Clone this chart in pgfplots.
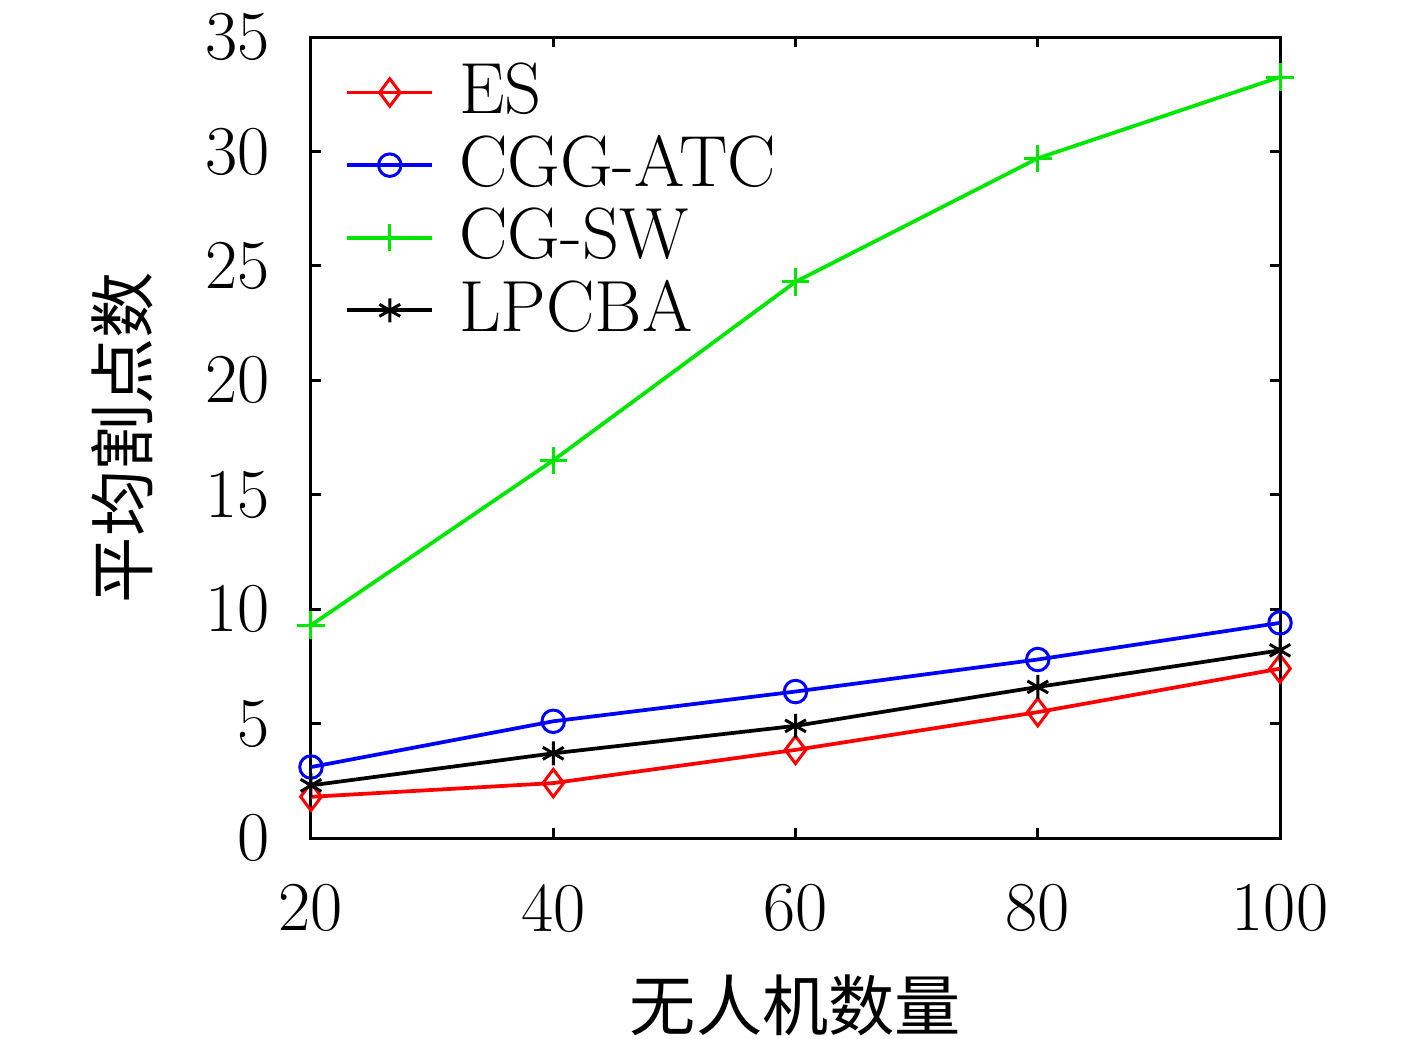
\documentclass[border=0pt]{standalone}
\usepackage{fontspec}
\usepackage{pgfplots}
\pgfplotsset{compat=1.18}
\newfontfamily\cjk{Noto Sans CJK SC}
\begin{document}
\fontsize{25}{30}\selectfont
\begin{tikzpicture}
\useasboundingbox (-124.4pt,-80pt) rectangle (442.4pt,335.2pt);
\begin{axis}[
  scale only axis,
  width=387.6pt, height=320.4pt,
  xmin=20, xmax=100, ymin=0, ymax=35,
  xtick={20,40,60,80,100},
  ytick={0,5,10,15,20,25,30,35},
  /pgf/number format/assume math mode=true,
  tick align=inside,
  major tick length=4pt,
  axis line style={line width=1.2pt},
  every tick/.style={black, line width=1.2pt},
  tick label style={font=\fontsize{28}{32}\selectfont},
  xticklabel style={yshift=-10pt},
  yticklabel style={xshift=-8pt},
  xlabel={\cjk 无人机数量},
  ylabel={\cjk 平均割点数},
  label style={font=\fontsize{26.5}{30}\selectfont},
  xlabel style={yshift=0pt},
  ylabel style={yshift=4pt},
  legend style={draw=none, fill=none, inner sep=0pt, at={(0.035,0.975)}, anchor=north west,
    font=\fontsize{29}{32}\selectfont, row sep=0.9pt},
  legend cell align=left,
  legend image code/.code={
    \draw[mark repeat=2,mark phase=2] plot coordinates {(0pt,0pt) (17pt,0pt) (34pt,0pt)};
    \path (42pt,0pt);
  },
]
\addplot[red, line width=1.5pt, mark=diamond, mark size=5.5pt, mark options={line width=1.2pt}]
  coordinates {(20,1.8) (40,2.4) (60,3.85) (80,5.5) (100,7.4)};
\addlegendentry{ES}
\addplot[blue, line width=1.5pt, mark=o, mark size=4.5pt, mark options={line width=1.2pt}]
  coordinates {(20,3.1) (40,5.1) (60,6.4) (80,7.8) (100,9.4)};
\addlegendentry{CGG-ATC}
\addplot[color={rgb,255:red,0;green,230;blue,0}, line width=1.5pt, mark=+, mark size=5.5pt, mark options={line width=1.2pt}]
  coordinates {(20,9.3) (40,16.5) (60,24.3) (80,29.7) (100,33.25)};
\addlegendentry{CG-SW}
\addplot[black, line width=1.5pt, mark=asterisk, mark size=4.8pt, mark options={line width=1.2pt}]
  coordinates {(20,2.3) (40,3.7) (60,4.9) (80,6.6) (100,8.2)};
\addlegendentry{LPCBA}
\end{axis}
\end{tikzpicture}
\end{document}
